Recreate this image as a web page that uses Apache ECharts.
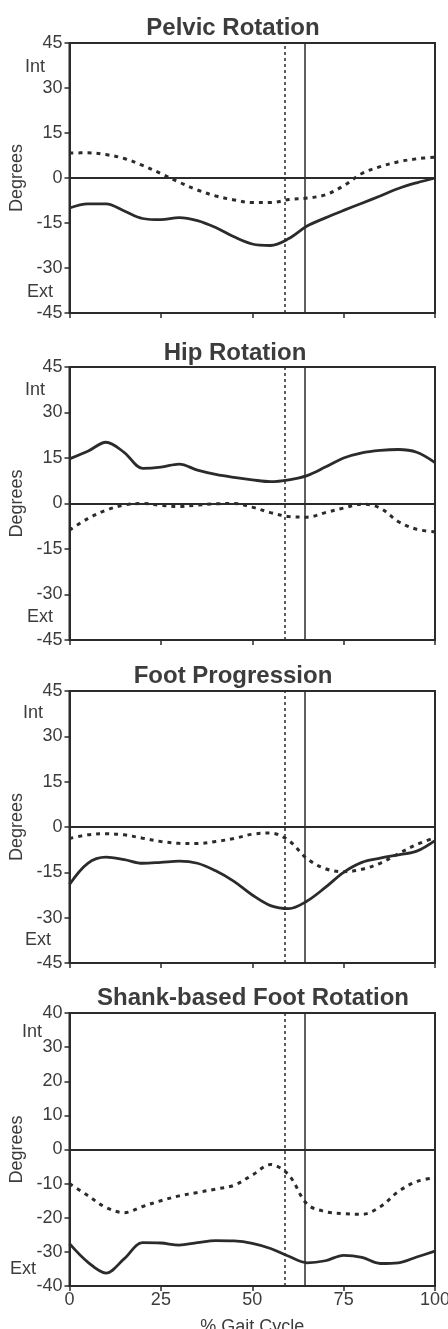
<!DOCTYPE html>
<html>
<head>
<meta charset="utf-8">
<script src="https://cdn.jsdelivr.net/npm/echarts@6/dist/echarts.min.js"></script>
<style>
  html, body { margin: 0; padding: 0; background: #fff; }
  #chart { width: 448px; height: 1329px; }
</style>
</head>
<body>
<div id="chart"></div>
<script>
// % gait cycle sample points
const pct = [0, 5, 10, 15, 20, 25, 30, 35, 40, 45, 50, 55, 60, 65, 70, 75, 80, 85, 90, 95, 100];

const pelvicSolid = [-10, -8.6, -8.6, -11, -13.5, -13.9, -13.2, -14.2, -16.5, -19.6, -22, -22.5, -20.2, -16, -13.3, -10.8, -8.4, -6, -3.5, -1.6, 0];
const pelvicDotted = [8.3, 8.4, 7.8, 6.5, 4.2, 1.5, -1.4, -4, -6, -7.3, -8.2, -8.2, -7.2, -6.7, -5.6, -2.6, 1.5, 3.8, 5.4, 6.4, 6.9];

const hipSolid = [14.7, 17.2, 20.2, 16.8, 11.6, 12, 13, 11, 9.6, 8.6, 7.8, 7.2, 7.8, 9.2, 12, 15, 16.7, 17.5, 17.8, 16.9, 13.5];
const hipDotted = [-8.8, -5, -2.2, -0.5, 0, -0.6, -1, -0.5, -0.1, 0, -1.2, -3, -4.3, -4.5, -3, -1.5, -0.2, -1.5, -6, -8.5, -9.3];

const footSolid = [-19, -12, -10, -10.8, -12, -11.7, -11.3, -12, -14.5, -18, -22.5, -26, -27, -24.5, -20, -15, -11.7, -10.3, -9.2, -8, -4.5];
const footDotted = [-3.8, -2.6, -2.2, -2.6, -3.7, -4.8, -5.4, -5.5, -4.8, -3.8, -2.4, -2, -4.5, -10.5, -13.8, -14.8, -14, -12, -8.8, -5.8, -3.5];

const shankSolid = [-27.6, -33, -36.2, -32, -27.3, -27.4, -28, -27.3, -26.7, -26.8, -27.5, -29, -31.3, -33.2, -32.6, -31, -31.6, -33.4, -33.2, -31.5, -29.8];
const shankDotted = [-10, -13.5, -17, -18.5, -16.7, -15, -13.6, -12.6, -11.6, -10.5, -7.5, -4.4, -7.5, -16, -18.2, -18.8, -19, -16.8, -12.3, -9.4, -8.3];

const titles = ['Pelvic Rotation', 'Hip Rotation', 'Foot Progression', 'Shank-based Foot Rotation'];
const yMin = [-45, -45, -45, -40];
const yMax = [45, 45, 45, 40];
const yStep = [15, 15, 15, 10];
const xTicks = [0, 25, 50, 75, 100];

// toe-off markers (dotted curve / solid curve)
const toeOffDotted = 59;
const toeOffSolid = 64.5;

const solidData = [pelvicSolid, hipSolid, footSolid, shankSolid];
const dottedData = [pelvicDotted, hipDotted, footDotted, shankDotted];

// layout
const gridTop = [43, 367, 691, 1013];
const gridHeight = [270, 273, 272, 273];
const gridLeft = 69.5;
const gridRight = 13;
const titleTop = [11, 336, 659, 981];
const titleX = [228, 230, 228, 248];
const intPos = [[35, 24], [35, 23], [33, 22], [32, 19]];
const extPos = [[40, 21], [40, 23], [38, 23], [23, 17]];

const ink = '#2b2b2b';
const textColor = '#3c3c3c';
const fontFamily = '"Liberation Sans", Arial, Helvetica, sans-serif';

let chart = echarts.init(document.getElementById('chart'), null, { renderer: 'canvas' });

let option = {
  backgroundColor: '#fff',
  animation: false,
  title: [],
  grid: [],
  xAxis: [],
  yAxis: [],
  series: [],
  graphic: []
};

for (let i = 0; i < 4; i++)
{
  option.title.push({
    text: titles[i],
    left: titleX[i],
    top: titleTop[i],
    textAlign: 'center',
    textStyle: { fontFamily: fontFamily, fontSize: 24, fontWeight: 'bold', color: textColor }
  });
  option.grid.push({
    left: gridLeft,
    right: gridRight,
    top: gridTop[i],
    height: gridHeight[i],
    containLabel: false,
    outerBoundsMode: 'none',
    show: true,
    borderColor: ink,
    borderWidth: 2,
    backgroundColor: 'transparent'
  });
  let last = i === 3;
  option.xAxis.push({
    type: 'value',
    gridIndex: i,
    min: 0,
    max: 100,
    interval: 25,
    name: last ? '% Gait Cycle' : '',
    nameLocation: 'middle',
    nameGap: 32,
    nameTextStyle: { fontFamily: fontFamily, fontSize: 18, color: textColor },
    axisLine: { show: true, onZero: false, lineStyle: { color: ink, width: 2 } },
    axisTick: { show: true, length: 5, inside: false, lineStyle: { color: ink, width: 1.5 } },
    axisLabel: { show: last, margin: 5, fontFamily: fontFamily, fontSize: 18, color: textColor,
      formatter: (v) => xTicks.includes(v) ? String(v) : '' },
    splitLine: { show: false }
  });
  option.yAxis.push({
    type: 'value',
    gridIndex: i,
    min: yMin[i],
    max: yMax[i],
    interval: yStep[i],
    name: 'Degrees',
    nameLocation: 'middle',
    nameRotate: 90,
    nameGap: 38,
    nameTextStyle: { fontFamily: fontFamily, fontSize: 18, color: textColor },
    axisLine: { show: true, onZero: false, lineStyle: { color: ink, width: 2 } },
    axisTick: { show: true, length: 5, inside: false, lineStyle: { color: ink, width: 1.5 } },
    axisLabel: { margin: 7, fontFamily: fontFamily, fontSize: 18, color: textColor },
    splitLine: { show: false }
  });

  option.series.push({
    type: 'line',
    xAxisIndex: i,
    yAxisIndex: i,
    data: pct.map((x, k) => [x, solidData[i][k]]),
    smooth: 0.35,
    showSymbol: false,
    lineStyle: { color: ink, width: 2.8 },
    z: 3,
    markLine: {
      silent: true,
      symbol: 'none',
      label: { show: false },
      data: [
        { yAxis: 0, lineStyle: { color: ink, width: 1.8, type: 'solid', opacity: 1 } },
        { xAxis: toeOffSolid, lineStyle: { color: ink, width: 1.5, type: 'solid', opacity: 1 } },
        { xAxis: toeOffDotted, lineStyle: { color: ink, width: 1.5, type: [3, 3], opacity: 1 } }
      ]
    }
  });
  option.series.push({
    type: 'line',
    xAxisIndex: i,
    yAxisIndex: i,
    data: pct.map((x, k) => [x, dottedData[i][k]]),
    smooth: 0.35,
    showSymbol: false,
    lineStyle: { color: ink, width: 3, type: [4, 5] },
    z: 3
  });

  option.graphic.push({
    type: 'text',
    x: intPos[i][0],
    y: gridTop[i] + intPos[i][1],
    style: { text: 'Int', font: '18px ' + fontFamily, fill: textColor, align: 'center', verticalAlign: 'middle' }
  });
  option.graphic.push({
    type: 'text',
    x: extPos[i][0],
    y: gridTop[i] + gridHeight[i] - extPos[i][1],
    style: { text: 'Ext', font: '18px ' + fontFamily, fill: textColor, align: 'center', verticalAlign: 'middle' }
  });
}

chart.setOption(option);
</script>
</body>
</html>
